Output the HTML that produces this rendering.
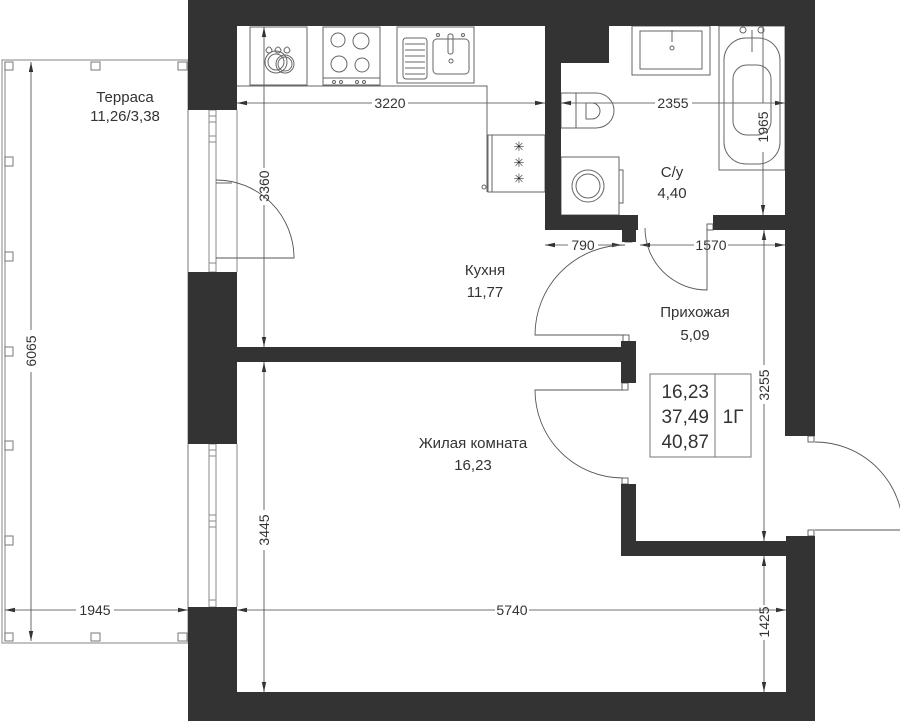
<!DOCTYPE html>
<html><head><meta charset="utf-8"><style>
html,body{margin:0;padding:0;background:#fff;}
svg{display:block;}
text{font-family:"Liberation Sans","Noto Sans CJK SC",sans-serif;fill:#333;}
</style></head><body>
<svg width="900" height="721" viewBox="0 0 900 721" xmlns="http://www.w3.org/2000/svg">
<defs>
<marker id="a" viewBox="0 0 10 6" refX="10" refY="3" markerWidth="10" markerHeight="6" orient="auto-start-reverse" markerUnits="userSpaceOnUse"><path d="M0,0.8 L10,3 L0,5.2z" fill="#333"/></marker>
</defs>
<!-- terrace -->
<g fill="none" stroke="#999" stroke-width="1.2">
<rect x="2" y="60" width="186" height="583"/>
<line x1="5" y1="62" x2="5" y2="641"/>
</g>
<g fill="#fff" stroke="#777" stroke-width="1">
<rect x="5" y="62" width="8" height="8"/><rect x="91" y="62" width="9" height="8"/><rect x="178" y="62" width="9" height="8"/>
<rect x="5" y="157" width="8" height="9"/><rect x="5" y="252" width="8" height="9"/><rect x="5" y="347" width="8" height="9"/><rect x="5" y="441" width="8" height="9"/><rect x="5" y="536" width="8" height="9"/>
<rect x="5" y="633" width="8" height="8"/><rect x="91" y="633" width="9" height="8"/><rect x="178" y="633" width="9" height="8"/>
</g>
<text x="125" y="102" font-size="15" text-anchor="middle">Терраса</text>
<text x="125" y="121" font-size="15" text-anchor="middle">11,26/3,38</text>

<!-- dimension lines -->
<g stroke="#444" stroke-width="0.8" fill="none">
<line x1="31" y1="62" x2="31" y2="330" marker-start="url(#a)"/><line x1="31" y1="372" x2="31" y2="641" marker-end="url(#a)"/>
<line x1="5" y1="610" x2="76" y2="610" marker-start="url(#a)"/><line x1="114" y1="610" x2="188" y2="610" marker-end="url(#a)"/>
<line x1="237" y1="103" x2="372" y2="103" marker-start="url(#a)"/><line x1="408" y1="103" x2="545" y2="103" marker-end="url(#a)"/>
<line x1="264" y1="27" x2="264" y2="168" marker-start="url(#a)"/><line x1="264" y1="205" x2="264" y2="347" marker-end="url(#a)"/>
<line x1="561" y1="103" x2="655" y2="103" marker-start="url(#a)"/><line x1="692" y1="103" x2="785" y2="103" marker-end="url(#a)"/>
<line x1="763" y1="26" x2="763" y2="103"/><line x1="763" y1="152" x2="763" y2="215" marker-end="url(#a)"/>
<line x1="545" y1="245" x2="568" y2="245" marker-start="url(#a)"/><line x1="598" y1="245" x2="622" y2="245" marker-end="url(#a)"/>
<line x1="640" y1="245" x2="694" y2="245" marker-start="url(#a)"/><line x1="728" y1="245" x2="785" y2="245" marker-end="url(#a)"/>
<line x1="764" y1="230" x2="764" y2="365" marker-start="url(#a)"/><line x1="764" y1="404" x2="764" y2="541" marker-end="url(#a)"/>
<line x1="764" y1="556" x2="764" y2="605" marker-start="url(#a)"/><line x1="764" y1="640" x2="764" y2="692" marker-end="url(#a)"/>
<line x1="237" y1="610" x2="495" y2="610" marker-start="url(#a)"/><line x1="529" y1="610" x2="786" y2="610" marker-end="url(#a)"/>
<line x1="264" y1="362" x2="264" y2="510" marker-start="url(#a)"/><line x1="264" y1="550" x2="264" y2="692" marker-end="url(#a)"/>
</g>
<g font-size="14">
<text transform="translate(36,351) rotate(-90)" text-anchor="middle">6065</text>
<text x="95" y="615" text-anchor="middle">1945</text>
<text x="390" y="108" text-anchor="middle">3220</text>
<text transform="translate(269,186) rotate(-90)" text-anchor="middle">3360</text>
<text x="673" y="108" text-anchor="middle">2355</text>
<text transform="translate(768,127) rotate(-90)" text-anchor="middle">1965</text>
<text x="583" y="250" text-anchor="middle">790</text>
<text x="711" y="250" text-anchor="middle">1570</text>
<text transform="translate(769,385) rotate(-90)" text-anchor="middle">3255</text>
<text transform="translate(769,622) rotate(-90)" text-anchor="middle">1425</text>
<text x="512" y="615" text-anchor="middle">5740</text>
<text transform="translate(269,530) rotate(-90)" text-anchor="middle">3445</text>
</g>

<!-- windows -->
<g fill="none" stroke="#888" stroke-width="1">
<line x1="188" y1="110" x2="188" y2="272"/><line x1="237" y1="110" x2="237" y2="272"/>
<rect x="209" y="110" width="7" height="162"/>
<line x1="209" y1="116" x2="216" y2="116"/><line x1="209" y1="122" x2="216" y2="122"/><line x1="209" y1="136" x2="216" y2="136"/><line x1="209" y1="142" x2="216" y2="142"/><line x1="209" y1="263" x2="216" y2="263"/>
<line x1="188" y1="444" x2="188" y2="607"/><line x1="237" y1="444" x2="237" y2="607"/>
<rect x="209" y="444" width="7" height="163"/>
<line x1="209" y1="450" x2="216" y2="450"/><line x1="209" y1="456" x2="216" y2="456"/><line x1="209" y1="515" x2="216" y2="515"/><line x1="209" y1="521" x2="216" y2="521"/><line x1="209" y1="527" x2="216" y2="527"/><line x1="209" y1="600" x2="216" y2="600"/>
</g>

<!-- kitchen furniture -->
<g fill="none" stroke="#666" stroke-width="1">
<polyline points="237,86 487,86 487,192"/>
<rect x="250" y="27" width="57" height="58"/>
<rect x="323" y="27" width="57" height="58"/><line x1="323" y1="78" x2="380" y2="78"/>
<circle cx="338" cy="40" r="7"/><circle cx="361" cy="41" r="8"/><circle cx="339" cy="64" r="8"/><circle cx="362" cy="65" r="7"/>
<circle cx="334" cy="82" r="1.5"/><circle cx="341" cy="82" r="1.5"/><circle cx="357" cy="82" r="1.5"/><circle cx="364" cy="82" r="1.5"/>
<circle cx="276" cy="62" r="11"/><circle cx="276" cy="62" r="8"/><circle cx="285" cy="64" r="9"/><circle cx="285" cy="64" r="7"/>
<path d="M266,50 q3,-6 6,0 a3,3 0 0 1 -6,0z M275,50 q3,-6 6,0 a3,3 0 0 1 -6,0z M284,50 q3,-6 6,0 a3,3 0 0 1 -6,0z"/>
<rect x="397" y="27" width="77" height="56"/>
<rect x="403" y="38" width="24" height="41" rx="3"/>
<line x1="405" y1="44" x2="425" y2="44"/><line x1="405" y1="50" x2="425" y2="50"/><line x1="405" y1="56" x2="425" y2="56"/><line x1="405" y1="62" x2="425" y2="62"/><line x1="405" y1="68" x2="425" y2="68"/><line x1="405" y1="74" x2="425" y2="74"/>
<rect x="433" y="39" width="36" height="35" rx="4"/>
<rect x="448" y="34" width="5" height="20" rx="2"/><circle cx="451" cy="61" r="2"/><circle cx="438" cy="35" r="1.5"/><circle cx="463" cy="35" r="1.5"/>
<rect x="488" y="135" width="57" height="57"/><line x1="492" y1="135" x2="492" y2="192"/><circle cx="484" cy="187" r="2"/>
</g>
<text x="519" y="167" font-size="13" text-anchor="middle" fill="#333">✳</text>
<text x="519" y="151" font-size="13" text-anchor="middle">✳</text>
<text x="519" y="183" font-size="13" text-anchor="middle">✳</text>

<!-- bath furniture -->
<g fill="none" stroke="#666" stroke-width="1">
<rect x="632" y="26" width="78" height="49"/><rect x="640" y="31" width="62" height="38"/>
<line x1="672" y1="30" x2="672" y2="42"/><circle cx="672" cy="48" r="2"/>
<rect x="719" y="26" width="66" height="144"/>
<rect x="724" y="38" width="56" height="126" rx="22"/>
<rect x="733" y="65" width="38" height="70" rx="14"/>
<line x1="752" y1="30" x2="752" y2="52"/><circle cx="743" cy="30" r="3"/><circle cx="761" cy="30" r="3"/>
<rect x="561" y="93" width="15" height="35"/>
<path d="M576,93 h20 a18,17.5 0 0 1 0,35 h-20z"/>
<path d="M586,103 h6 a8,8 0 0 1 0,16 h-6z"/>
<rect x="561" y="157" width="58" height="58"/><rect x="619" y="170" width="4" height="33"/>
<circle cx="588" cy="186" r="16"/><circle cx="588" cy="186" r="12"/>
</g>

<!-- doors -->
<g fill="none" stroke="#555" stroke-width="0.9">
<line x1="216" y1="183" x2="232" y2="183"/>
<path d="M216,180 A78,78 0 0 1 294,258 L216,258"/>
<path d="M645,228 A62,62 0 0 0 707,290 L707,228"/>
<rect x="625" y="234" width="7" height="8" fill="#fff"/><rect x="707" y="224" width="6" height="6" fill="#fff"/>
<path d="M625,245 A90,90 0 0 0 535,335 L625,335"/>
<rect x="623" y="335" width="6" height="7" fill="#fff"/>
<path d="M625,390 L535,390 A88,88 0 0 0 623,478"/>
<rect x="622" y="383" width="6" height="7" fill="#fff"/><rect x="622" y="478" width="6" height="6" fill="#fff"/>
<path d="M815,442 A88,88 0 0 1 903,530 L815,530"/>
<rect x="808" y="436" width="6" height="6" fill="#fff"/><rect x="808" y="530" width="6" height="6" fill="#fff"/>
</g>

<!-- walls -->
<g fill="#333">
<rect x="188" y="0" width="627" height="26"/>
<rect x="188" y="0" width="49" height="110"/>
<rect x="188" y="272" width="49" height="172"/>
<rect x="188" y="607" width="49" height="114"/>
<rect x="188" y="692" width="627" height="29"/>
<rect x="785" y="0" width="30" height="436"/>
<rect x="786" y="536" width="29" height="185"/>
<rect x="545" y="26" width="64" height="37"/>
<rect x="545" y="26" width="16" height="204"/>
<rect x="545" y="215" width="93" height="15"/>
<rect x="622" y="228" width="14" height="14"/>
<rect x="713" y="215" width="102" height="15"/>
<rect x="237" y="347" width="399" height="15"/>
<rect x="621" y="341" width="15" height="42"/>
<rect x="621" y="484" width="15" height="72"/>
<rect x="621" y="541" width="194" height="15"/>
</g>

<!-- info box -->
<g fill="none" stroke="#777" stroke-width="1"><rect x="650" y="374" width="101" height="83"/><line x1="715" y1="374" x2="715" y2="457"/></g>
<g font-size="19" text-anchor="end"><text x="709" y="398">16,23</text><text x="709" y="423">37,49</text><text x="709" y="448">40,87</text></g>
<text x="733" y="423" font-size="19" text-anchor="middle">1Г</text>

<!-- room labels -->
<g font-size="15" text-anchor="middle">
<text x="485" y="275">Кухня</text><text x="485" y="297">11,77</text>
<text x="672" y="177">С/у</text><text x="672" y="198">4,40</text>
<text x="695" y="317">Прихожая</text><text x="695" y="340">5,09</text>
<text x="473" y="448">Жилая комната</text><text x="473" y="470">16,23</text>
</g>
</svg>
</body></html>
